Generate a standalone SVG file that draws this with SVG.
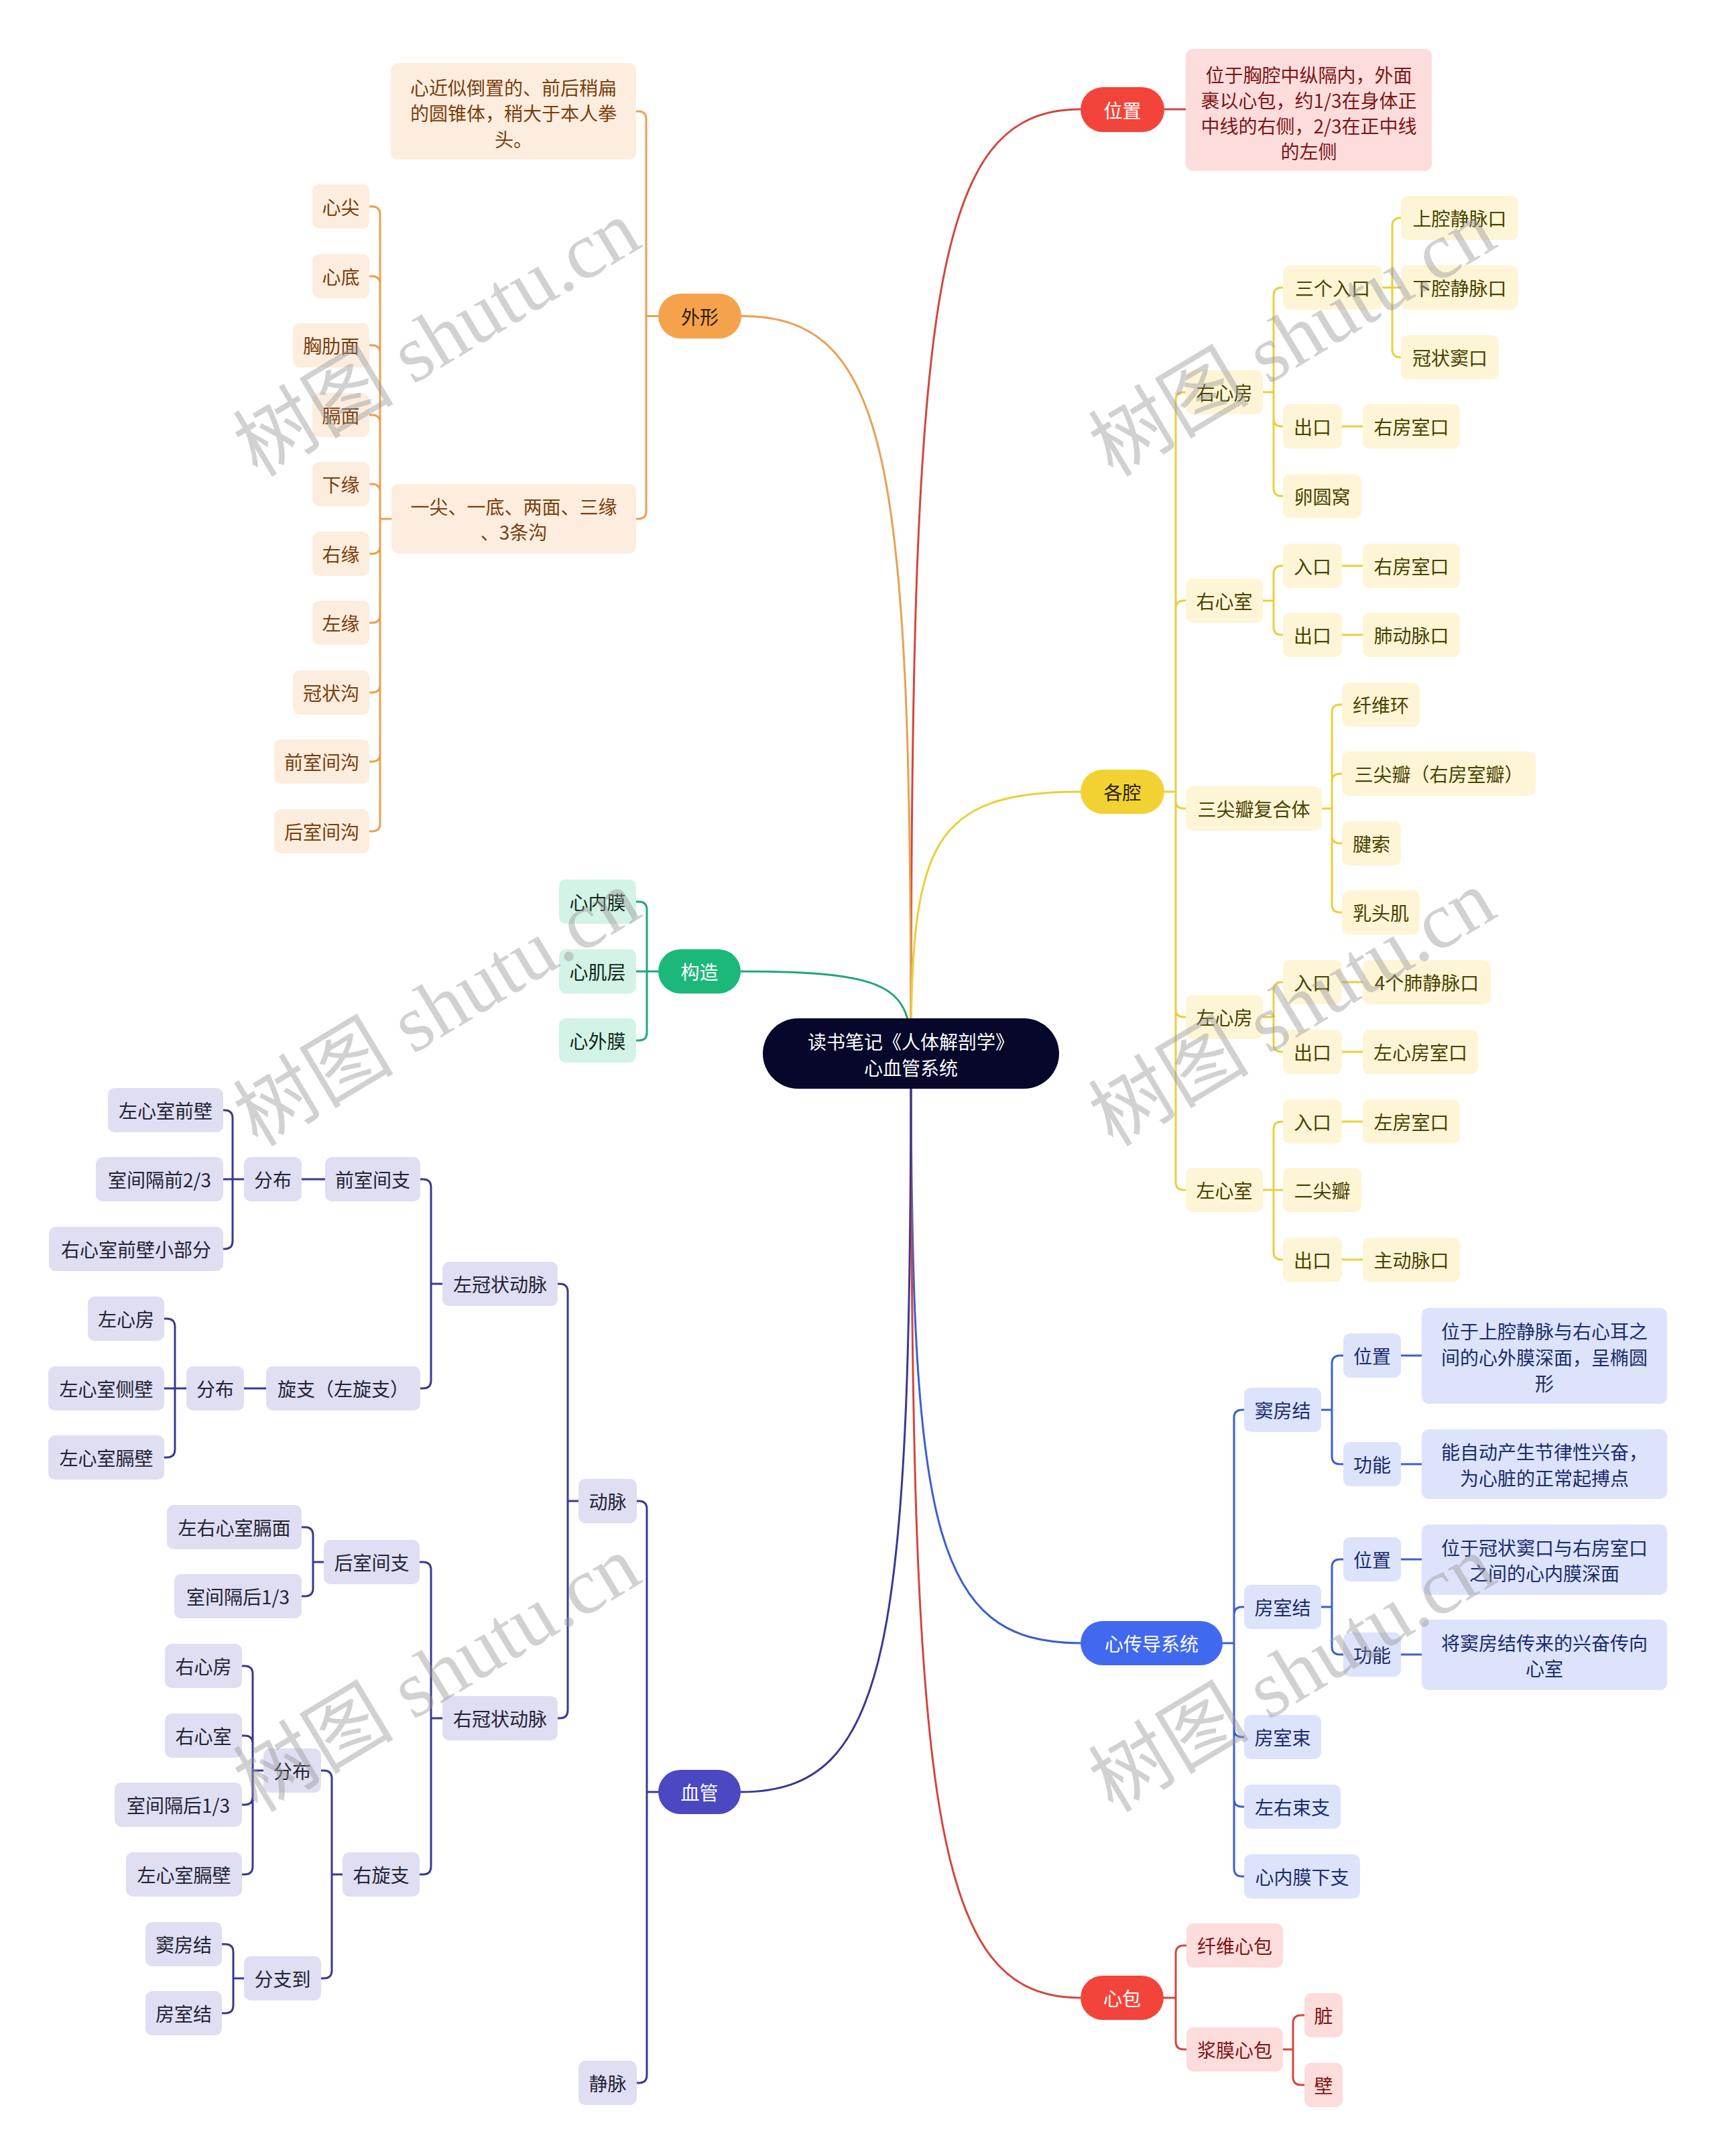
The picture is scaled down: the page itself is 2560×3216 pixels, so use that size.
<svg xmlns="http://www.w3.org/2000/svg" width="2560" height="3216" viewBox="0 0 2560 3216">
<style>
text{font-family:"Noto Sans CJK SC","Noto Sans",sans-serif;font-size:28px;text-anchor:middle;dominant-baseline:central}
.ln{fill:none;stroke-width:3;stroke-linecap:round;stroke-linejoin:round}
.lo{stroke:#E9A050}.lr{stroke:#D4463C}.ly{stroke:#EBCF3A}.lg{stroke:#1FA877}.lb{stroke:#3B5FD0}.li{stroke:#3A3891}
.po{fill:#F5A24C}.pr{fill:#F3443B}.py{fill:#F2D232}.pg{fill:#1BB87A}.pb{fill:#4169F0}.pi{fill:#4B48C2}
.bo{fill:#FDEDDF}.br{fill:#FDDCDC}.by{fill:#FDF5D5}.bg{fill:#D2F3E5}.bb{fill:#DCE3FB}.bi{fill:#DFDEF3}
.to{fill:#7A3E0C}.tr{fill:#7C1515}.ty{fill:#4A4100}.tg{fill:#12261D}.tb{fill:#1B2B6B}.ti{fill:#222233}.tw{fill:#FFFFFF}.td{fill:#2A1C08}
.wm{font-family:"Liberation Serif","Noto Sans CJK SC",serif;font-size:120px;fill:#9A9A9A;fill-opacity:0.45}
</style>
<rect x="0" y="0" width="2560" height="3216" fill="#FFFFFF"/>
<g id="connectors">
<path class="ln lr" d="M 1359 1571 C 1359 445 1389 163 1612 163"/>
<path class="ln lo" d="M 1359 1571 C 1359 692 1329 471.5 1106 471.5"/>
<path class="ln ly" d="M 1359 1571 C 1359 1259 1389 1181 1612 1181"/>
<path class="ln lg" d="M 1359 1571 C 1359 1473 1329 1449 1105 1449"/>
<path class="ln lb" d="M 1359 1571 C 1359 2275 1389 2451 1612 2451"/>
<path class="ln lr" d="M 1359 1571 C 1359 2698 1389 2980 1612 2980"/>
<path class="ln li" d="M 1359 1571 C 1359 2453 1329 2673 1105 2673"/>
<path class="ln lr" d="M 1737 163 H 1769"/>
<path class="ln lo" d="M 982 471.5 H 964 V 178 Q 964 166 952 166 H 949 M 982 471.5 H 964 V 762 Q 964 774 952 774 H 949"/>
<path class="ln lo" d="M 584 774 H 567 V 320 Q 567 308 555 308 H 551 M 567 424 Q 567 412 555 412 H 551 M 567 527 Q 567 515 555 515 H 551 M 567 631 Q 567 619 555 619 H 551 M 567 734 Q 567 722 555 722 H 551 M 567 774 V 1228 Q 567 1240 555 1240 H 551 M 567 814 Q 567 826 555 826 H 551 M 567 917 Q 567 929 555 929 H 551 M 567 1021 Q 567 1033 555 1033 H 551 M 567 1124 Q 567 1136 555 1136 H 551"/>
<path class="ln lg" d="M 982 1449 H 965 V 1357 Q 965 1345 953 1345 H 949 M 982 1449 H 949 M 965 1449 V 1540 Q 965 1552 953 1552 H 949"/>
<path class="ln ly" d="M 1737 1181 H 1754 V 597 Q 1754 585 1766 585 H 1769 M 1754 1181 V 1763 Q 1754 1775 1766 1775 H 1769 M 1754 908 Q 1754 896 1766 896 H 1769 M 1754 1194 Q 1754 1206 1766 1206 H 1769 M 1754 1505 Q 1754 1517 1766 1517 H 1769"/>
<path class="ln ly" d="M 1884 585 H 1900 V 441 Q 1900 429 1912 429 H 1914 M 1900 585 V 728 Q 1900 740 1912 740 H 1914 M 1900 624 Q 1900 636 1912 636 H 1914"/>
<path class="ln ly" d="M 2062 429 H 2077 V 337 Q 2077 325 2089 325 H 2090 M 2062 429 H 2090 M 2077 429 V 521 Q 2077 533 2089 533 H 2090 M 2002 636 H 2033"/>
<path class="ln ly" d="M 1884 896 H 1900 V 856 Q 1900 844 1912 844 H 1914 M 1900 896 V 935 Q 1900 947 1912 947 H 1914 M 2002 844 H 2033 M 2002 947 H 2033"/>
<path class="ln ly" d="M 1972 1206 H 1987 V 1063 Q 1987 1051 1999 1051 H 2002 M 1987 1206 V 1349 Q 1987 1361 1999 1361 H 2002 M 1987 1166 Q 1987 1154 1999 1154 H 2002 M 1987 1246 Q 1987 1258 1999 1258 H 2002"/>
<path class="ln ly" d="M 1884 1517 H 1900 V 1477 Q 1900 1465 1912 1465 H 1914 M 1900 1517 V 1557 Q 1900 1569 1912 1569 H 1914 M 2002 1465 H 2033 M 2002 1569 H 2033"/>
<path class="ln ly" d="M 1884 1775 H 1900 V 1685 Q 1900 1673 1912 1673 H 1914 M 1884 1775 H 1914 M 1900 1775 V 1867 Q 1900 1879 1912 1879 H 1914 M 2002 1673 H 2033 M 2002 1879 H 2033"/>
<path class="ln lb" d="M 1824 2451 H 1841 V 2115 Q 1841 2103 1853 2103 H 1856 M 1841 2451 V 2787 Q 1841 2799 1853 2799 H 1856 M 1841 2409 Q 1841 2397 1853 2397 H 1856 M 1841 2579 Q 1841 2591 1853 2591 H 1856 M 1841 2683 Q 1841 2695 1853 2695 H 1856"/>
<path class="ln lb" d="M 1971 2103 H 1987 V 2034 Q 1987 2022 1999 2022 H 2004 M 1987 2103 V 2172 Q 1987 2184 1999 2184 H 2004 M 2090 2022 H 2121 M 2090 2184 H 2121"/>
<path class="ln lb" d="M 1971 2397 H 1987 V 2338 Q 1987 2326 1999 2326 H 2004 M 1987 2397 V 2456 Q 1987 2468 1999 2468 H 2004 M 2090 2326 H 2121 M 2090 2468 H 2121"/>
<path class="ln lr" d="M 1736 2980 H 1754 V 2914 Q 1754 2902 1766 2902 H 1770 M 1754 2980 V 3045 Q 1754 3057 1766 3057 H 1770 M 1914 3057 H 1929 V 3018 Q 1929 3006 1941 3006 H 1946 M 1929 3057 V 3098 Q 1929 3110 1941 3110 H 1946"/>
<path class="ln li" d="M 982 2673 H 965 V 2251 Q 965 2239 953 2239 H 950 M 965 2673 V 3095 Q 965 3107 953 3107 H 950"/>
<path class="ln li" d="M 863 2239 H 847 V 1927 Q 847 1915 835 1915 H 832 M 847 2239 V 2551 Q 847 2563 835 2563 H 832"/>
<path class="ln li" d="M 660 1915 H 643 V 1771 Q 643 1759 631 1759 H 627 M 643 1915 V 2059 Q 643 2071 631 2071 H 627 M 485 1759 H 450 M 397 2071 H 364"/>
<path class="ln li" d="M 364 1759 H 347 V 1668 Q 347 1656 335 1656 H 333 M 364 1759 H 333 M 347 1759 V 1851 Q 347 1863 335 1863 H 333"/>
<path class="ln li" d="M 278 2071 H 261 V 1979 Q 261 1967 249 1967 H 245 M 278 2071 H 245 M 261 2071 V 2162 Q 261 2174 249 2174 H 245"/>
<path class="ln li" d="M 660 2563 H 643 V 2342 Q 643 2330 631 2330 H 626 M 643 2563 V 2784 Q 643 2796 631 2796 H 626"/>
<path class="ln li" d="M 483 2330 H 467 V 2290 Q 467 2278 455 2278 H 450 M 467 2330 V 2369 Q 467 2381 455 2381 H 450"/>
<path class="ln li" d="M 511 2796 H 495 V 2653 Q 495 2641 483 2641 H 479 M 495 2796 V 2939 Q 495 2951 483 2951 H 479"/>
<path class="ln li" d="M 393 2641 H 377 V 2497 Q 377 2485 365 2485 H 361 M 377 2601 Q 377 2589 365 2589 H 361 M 377 2641 V 2784 Q 377 2796 365 2796 H 361 M 377 2680 Q 377 2692 365 2692 H 361"/>
<path class="ln li" d="M 364 2951 H 348 V 2912 Q 348 2900 336 2900 H 331 M 348 2951 V 2991 Q 348 3003 336 3003 H 331"/>
</g>
<g id="root"><rect x="1138" y="1519" width="442" height="105" rx="52.5" fill="#06072B"/><text class="tw" x="1359" y="1553">读书笔记《人体解剖学》</text><text class="tw" x="1359" y="1592">心血管系统</text></g>
<g id="weizhi"><rect class="pr" x="1612" y="130" width="125" height="67" rx="33.5"/><text class="tw" x="1674.5" y="163.5">位置</text></g>
<g id="weizhi-desc"><rect class="br" x="1769" y="73" width="367" height="182" rx="10"/><text class="tr" x="1952.5" y="111">位于胸腔中纵隔内，外面</text><text class="tr" x="1952.5" y="149">裹以心包，约1/3在身体正</text><text class="tr" x="1952.5" y="187">中线的右侧，2/3在正中线</text><text class="tr" x="1952.5" y="225">的左侧</text></g>
<g id="waixing"><rect class="po" x="982" y="438" width="124" height="67" rx="33.5"/><text class="td" x="1044" y="471.5">外形</text></g>
<g id="waixing-desc"><rect class="bo" x="583" y="94" width="366" height="144" rx="10"/><text class="to" x="766" y="130">心近似倒置的、前后稍扁</text><text class="to" x="766" y="168">的圆锥体，稍大于本人拳</text><text class="to" x="766" y="207">头。</text></g>
<g id="yijian"><rect class="bo" x="584" y="722" width="365" height="104" rx="10"/><text class="to" x="766.5" y="755">一尖、一底、两面、三缘</text><text class="to" x="766.5" y="793">、3条沟</text></g>
<g id="xinjian"><rect class="bo" x="466" y="275" width="85" height="66" rx="10"/><text class="to" x="508.5" y="308">心尖</text></g>
<g id="xindi"><rect class="bo" x="466" y="379" width="85" height="66" rx="10"/><text class="to" x="508.5" y="412">心底</text></g>
<g id="xionglei"><rect class="bo" x="437" y="482" width="114" height="66" rx="10"/><text class="to" x="494" y="515">胸肋面</text></g>
<g id="gemian"><rect class="bo" x="466" y="586" width="85" height="66" rx="10"/><text class="to" x="508.5" y="619">膈面</text></g>
<g id="xiayuan"><rect class="bo" x="466" y="689" width="85" height="66" rx="10"/><text class="to" x="508.5" y="722">下缘</text></g>
<g id="youyuan"><rect class="bo" x="466" y="793" width="85" height="66" rx="10"/><text class="to" x="508.5" y="826">右缘</text></g>
<g id="zuoyuan"><rect class="bo" x="466" y="896" width="85" height="66" rx="10"/><text class="to" x="508.5" y="929">左缘</text></g>
<g id="guanzhuanggou"><rect class="bo" x="437" y="1000" width="114" height="66" rx="10"/><text class="to" x="494" y="1033">冠状沟</text></g>
<g id="qianshijiangou"><rect class="bo" x="409" y="1103" width="142" height="66" rx="10"/><text class="to" x="480" y="1136">前室间沟</text></g>
<g id="houshijiangou"><rect class="bo" x="409" y="1207" width="142" height="66" rx="10"/><text class="to" x="480" y="1240">后室间沟</text></g>
<g id="gouzao"><rect class="pg" x="982" y="1416" width="123" height="66" rx="33"/><text class="tw" x="1043.5" y="1449">构造</text></g>
<g id="xinneimo"><rect class="bg" x="834" y="1312" width="115" height="66" rx="10"/><text class="tg" x="891.5" y="1345">心内膜</text></g>
<g id="xinjiceng"><rect class="bg" x="834" y="1416" width="115" height="66" rx="10"/><text class="tg" x="891.5" y="1449">心肌层</text></g>
<g id="xinwaimo"><rect class="bg" x="834" y="1519" width="115" height="66" rx="10"/><text class="tg" x="891.5" y="1552">心外膜</text></g>
<g id="geqiang"><rect class="py" x="1612" y="1148" width="125" height="66" rx="33"/><text class="td" x="1674.5" y="1181">各腔</text></g>
<g id="youxinfang"><rect class="by" x="1769" y="552" width="115" height="66" rx="10"/><text class="ty" x="1826.5" y="585">右心房</text></g>
<g id="sangerukou"><rect class="by" x="1914" y="396" width="148" height="66" rx="10"/><text class="ty" x="1988" y="429">三个入口</text></g>
<g id="shangqiang"><rect class="by" x="2090" y="292" width="175" height="66" rx="10"/><text class="ty" x="2177.5" y="325">上腔静脉口</text></g>
<g id="xiaqiang"><rect class="by" x="2090" y="396" width="175" height="66" rx="10"/><text class="ty" x="2177.5" y="429">下腔静脉口</text></g>
<g id="guanzhuangdou"><rect class="by" x="2090" y="500" width="146" height="66" rx="10"/><text class="ty" x="2163" y="533">冠状窦口</text></g>
<g id="rf-chukou"><rect class="by" x="1914" y="603" width="88" height="66" rx="10"/><text class="ty" x="1958" y="636">出口</text></g>
<g id="rf-youfangshikou"><rect class="by" x="2033" y="603" width="145" height="66" rx="10"/><text class="ty" x="2105.5" y="636">右房室口</text></g>
<g id="luanyuanwo"><rect class="by" x="1914" y="707" width="117" height="66" rx="10"/><text class="ty" x="1972.5" y="740">卵圆窝</text></g>
<g id="youxinshi"><rect class="by" x="1769" y="863" width="115" height="66" rx="10"/><text class="ty" x="1826.5" y="896">右心室</text></g>
<g id="rs-rukou"><rect class="by" x="1914" y="811" width="88" height="66" rx="10"/><text class="ty" x="1958" y="844">入口</text></g>
<g id="rs-youfangshikou"><rect class="by" x="2033" y="811" width="145" height="66" rx="10"/><text class="ty" x="2105.5" y="844">右房室口</text></g>
<g id="rs-chukou"><rect class="by" x="1914" y="914" width="88" height="66" rx="10"/><text class="ty" x="1958" y="947">出口</text></g>
<g id="feidongmaikou"><rect class="by" x="2033" y="914" width="145" height="66" rx="10"/><text class="ty" x="2105.5" y="947">肺动脉口</text></g>
<g id="sanjianban-fuheti"><rect class="by" x="1769" y="1173" width="203" height="66" rx="10"/><text class="ty" x="1870.5" y="1206">三尖瓣复合体</text></g>
<g id="xianweihuan"><rect class="by" x="2002" y="1018" width="116" height="66" rx="10"/><text class="ty" x="2060" y="1051">纤维环</text></g>
<g id="sanjianban"><rect class="by" x="2002" y="1121" width="289" height="66" rx="10"/><text class="ty" x="2146.5" y="1154">三尖瓣（右房室瓣）</text></g>
<g id="jiansuo"><rect class="by" x="2002" y="1225" width="88" height="66" rx="10"/><text class="ty" x="2046" y="1258">腱索</text></g>
<g id="rutouji"><rect class="by" x="2002" y="1328" width="116" height="66" rx="10"/><text class="ty" x="2060" y="1361">乳头肌</text></g>
<g id="zuoxinfang"><rect class="by" x="1769" y="1484" width="115" height="66" rx="10"/><text class="ty" x="1826.5" y="1517">左心房</text></g>
<g id="lf-rukou"><rect class="by" x="1914" y="1432" width="88" height="66" rx="10"/><text class="ty" x="1958" y="1465">入口</text></g>
<g id="feijingmaikou"><rect class="by" x="2033" y="1432" width="191" height="66" rx="10"/><text class="ty" x="2128.5" y="1465">4个肺静脉口</text></g>
<g id="lf-chukou"><rect class="by" x="1914" y="1536" width="88" height="66" rx="10"/><text class="ty" x="1958" y="1569">出口</text></g>
<g id="zuoxinfangshikou"><rect class="by" x="2033" y="1536" width="172" height="66" rx="10"/><text class="ty" x="2119" y="1569">左心房室口</text></g>
<g id="zuoxinshi"><rect class="by" x="1769" y="1742" width="115" height="66" rx="10"/><text class="ty" x="1826.5" y="1775">左心室</text></g>
<g id="ls-rukou"><rect class="by" x="1914" y="1640" width="88" height="66" rx="10"/><text class="ty" x="1958" y="1673">入口</text></g>
<g id="zuofangshikou"><rect class="by" x="2033" y="1640" width="145" height="66" rx="10"/><text class="ty" x="2105.5" y="1673">左房室口</text></g>
<g id="erjianban"><rect class="by" x="1914" y="1742" width="117" height="66" rx="10"/><text class="ty" x="1972.5" y="1775">二尖瓣</text></g>
<g id="ls-chukou"><rect class="by" x="1914" y="1846" width="88" height="66" rx="10"/><text class="ty" x="1958" y="1879">出口</text></g>
<g id="zhudongmaikou"><rect class="by" x="2033" y="1846" width="145" height="66" rx="10"/><text class="ty" x="2105.5" y="1879">主动脉口</text></g>
<g id="chuandao"><rect class="pb" x="1612" y="2418" width="212" height="66" rx="33"/><text class="tw" x="1718" y="2451">心传导系统</text></g>
<g id="doufangjie"><rect class="bb" x="1856" y="2070" width="115" height="66" rx="10"/><text class="tb" x="1913.5" y="2103">窦房结</text></g>
<g id="dfj-weizhi"><rect class="bb" x="2004" y="1989" width="86" height="66" rx="10"/><text class="tb" x="2047" y="2022">位置</text></g>
<g id="dfj-weizhi-desc"><rect class="bb" x="2121" y="1951" width="366" height="143" rx="10"/><text class="tb" x="2304" y="1985">位于上腔静脉与右心耳之</text><text class="tb" x="2304" y="2024">间的心外膜深面，呈椭圆</text><text class="tb" x="2304" y="2063">形</text></g>
<g id="dfj-gongneng"><rect class="bb" x="2004" y="2151" width="86" height="66" rx="10"/><text class="tb" x="2047" y="2184">功能</text></g>
<g id="dfj-gongneng-desc"><rect class="bb" x="2121" y="2132" width="366" height="104" rx="10"/><text class="tb" x="2304" y="2165">能自动产生节律性兴奋，</text><text class="tb" x="2304" y="2204">为心脏的正常起搏点</text></g>
<g id="fangshijie"><rect class="bb" x="1856" y="2364" width="115" height="66" rx="10"/><text class="tb" x="1913.5" y="2397">房室结</text></g>
<g id="fsj-weizhi"><rect class="bb" x="2004" y="2293" width="86" height="66" rx="10"/><text class="tb" x="2047" y="2326">位置</text></g>
<g id="fsj-weizhi-desc"><rect class="bb" x="2121" y="2274" width="366" height="105" rx="10"/><text class="tb" x="2304" y="2308">位于冠状窦口与右房室口</text><text class="tb" x="2304" y="2346">之间的心内膜深面</text></g>
<g id="fsj-gongneng"><rect class="bb" x="2004" y="2435" width="86" height="66" rx="10"/><text class="tb" x="2047" y="2468">功能</text></g>
<g id="fsj-gongneng-desc"><rect class="bb" x="2121" y="2416" width="366" height="105" rx="10"/><text class="tb" x="2304" y="2450">将窦房结传来的兴奋传向</text><text class="tb" x="2304" y="2488">心室</text></g>
<g id="fangshishu"><rect class="bb" x="1856" y="2558" width="115" height="66" rx="10"/><text class="tb" x="1913.5" y="2591">房室束</text></g>
<g id="zuoyoushuzhi"><rect class="bb" x="1856" y="2662" width="144" height="66" rx="10"/><text class="tb" x="1928" y="2695">左右束支</text></g>
<g id="xinneimoxiazhi"><rect class="bb" x="1856" y="2766" width="173" height="66" rx="10"/><text class="tb" x="1942.5" y="2799">心内膜下支</text></g>
<g id="xinbao"><rect class="pr" x="1612" y="2947" width="124" height="66" rx="33"/><text class="tw" x="1674" y="2980">心包</text></g>
<g id="xianweixinbao"><rect class="br" x="1770" y="2869" width="144" height="66" rx="10"/><text class="tr" x="1842" y="2902">纤维心包</text></g>
<g id="jiangmoxinbao"><rect class="br" x="1770" y="3024" width="144" height="66" rx="10"/><text class="tr" x="1842" y="3057">浆膜心包</text></g>
<g id="zang"><rect class="br" x="1946" y="2973" width="57" height="66" rx="10"/><text class="tr" x="1974.5" y="3006">脏</text></g>
<g id="bi"><rect class="br" x="1946" y="3077" width="57" height="66" rx="10"/><text class="tr" x="1974.5" y="3110">壁</text></g>
<g id="xueguan"><rect class="pi" x="982" y="2640" width="123" height="66" rx="33"/><text class="tw" x="1043.5" y="2673">血管</text></g>
<g id="dongmai"><rect class="bi" x="863" y="2206" width="87" height="66" rx="10"/><text class="ti" x="906.5" y="2239">动脉</text></g>
<g id="jingmai"><rect class="bi" x="863" y="3074" width="87" height="66" rx="10"/><text class="ti" x="906.5" y="3107">静脉</text></g>
<g id="zuoguanzhuang"><rect class="bi" x="660" y="1882" width="172" height="66" rx="10"/><text class="ti" x="746" y="1915">左冠状动脉</text></g>
<g id="qianshijianzhi"><rect class="bi" x="485" y="1726" width="142" height="66" rx="10"/><text class="ti" x="556" y="1759">前室间支</text></g>
<g id="fenbu1"><rect class="bi" x="364" y="1726" width="86" height="66" rx="10"/><text class="ti" x="407" y="1759">分布</text></g>
<g id="zuoxinshiqianbi"><rect class="bi" x="161" y="1623" width="172" height="66" rx="10"/><text class="ti" x="247" y="1656">左心室前壁</text></g>
<g id="shijiangeqian"><rect class="bi" x="143" y="1726" width="190" height="66" rx="10"/><text class="ti" x="238" y="1759">室间隔前2/3</text></g>
<g id="youxinshiqianbi"><rect class="bi" x="73" y="1830" width="260" height="66" rx="10"/><text class="ti" x="203" y="1863">右心室前壁小部分</text></g>
<g id="xuanzhi"><rect class="bi" x="397" y="2038" width="230" height="66" rx="10"/><text class="ti" x="512" y="2071">旋支（左旋支）</text></g>
<g id="fenbu2"><rect class="bi" x="278" y="2038" width="86" height="66" rx="10"/><text class="ti" x="321" y="2071">分布</text></g>
<g id="zuoxinfang2"><rect class="bi" x="131" y="1934" width="114" height="66" rx="10"/><text class="ti" x="188" y="1967">左心房</text></g>
<g id="zuoxinshicebi"><rect class="bi" x="72" y="2038" width="173" height="66" rx="10"/><text class="ti" x="158.5" y="2071">左心室侧壁</text></g>
<g id="zuoxinshigebi1"><rect class="bi" x="72" y="2141" width="173" height="66" rx="10"/><text class="ti" x="158.5" y="2174">左心室膈壁</text></g>
<g id="youguanzhuang"><rect class="bi" x="660" y="2530" width="172" height="66" rx="10"/><text class="ti" x="746" y="2563">右冠状动脉</text></g>
<g id="houshijianzhi"><rect class="bi" x="483" y="2297" width="143" height="66" rx="10"/><text class="ti" x="554.5" y="2330">后室间支</text></g>
<g id="zuoyouxinshigemian"><rect class="bi" x="249" y="2245" width="201" height="66" rx="10"/><text class="ti" x="349.5" y="2278">左右心室膈面</text></g>
<g id="shijiangehou1"><rect class="bi" x="260" y="2348" width="190" height="66" rx="10"/><text class="ti" x="355" y="2381">室间隔后1/3</text></g>
<g id="youxuanzhi"><rect class="bi" x="511" y="2763" width="115" height="66" rx="10"/><text class="ti" x="568.5" y="2796">右旋支</text></g>
<g id="fenbu3"><rect class="bi" x="393" y="2608" width="86" height="66" rx="10"/><text class="ti" x="436" y="2641">分布</text></g>
<g id="youxinfang2"><rect class="bi" x="246" y="2452" width="115" height="66" rx="10"/><text class="ti" x="303.5" y="2485">右心房</text></g>
<g id="youxinshi2"><rect class="bi" x="246" y="2556" width="115" height="66" rx="10"/><text class="ti" x="303.5" y="2589">右心室</text></g>
<g id="shijiangehou2"><rect class="bi" x="171" y="2659" width="190" height="66" rx="10"/><text class="ti" x="266" y="2692">室间隔后1/3</text></g>
<g id="zuoxinshigebi2"><rect class="bi" x="188" y="2763" width="173" height="66" rx="10"/><text class="ti" x="274.5" y="2796">左心室膈壁</text></g>
<g id="fenzhidao"><rect class="bi" x="364" y="2918" width="115" height="66" rx="10"/><text class="ti" x="421.5" y="2951">分支到</text></g>
<g id="doufangjie2"><rect class="bi" x="217" y="2867" width="114" height="66" rx="10"/><text class="ti" x="274" y="2900">窦房结</text></g>
<g id="fangshijie2"><rect class="bi" x="217" y="2970" width="114" height="66" rx="10"/><text class="ti" x="274" y="3003">房室结</text></g>
<g id="watermarks">
<text class="wm" x="652" y="505" transform="rotate(-31 652 505)">树图 shutu.cn</text>
<text class="wm" x="1928" y="505" transform="rotate(-31 1928 505)">树图 shutu.cn</text>
<text class="wm" x="652" y="1504" transform="rotate(-31 652 1504)">树图 shutu.cn</text>
<text class="wm" x="1928" y="1504" transform="rotate(-31 1928 1504)">树图 shutu.cn</text>
<text class="wm" x="652" y="2497" transform="rotate(-31 652 2497)">树图 shutu.cn</text>
<text class="wm" x="1928" y="2497" transform="rotate(-31 1928 2497)">树图 shutu.cn</text>
</g>
</svg>
